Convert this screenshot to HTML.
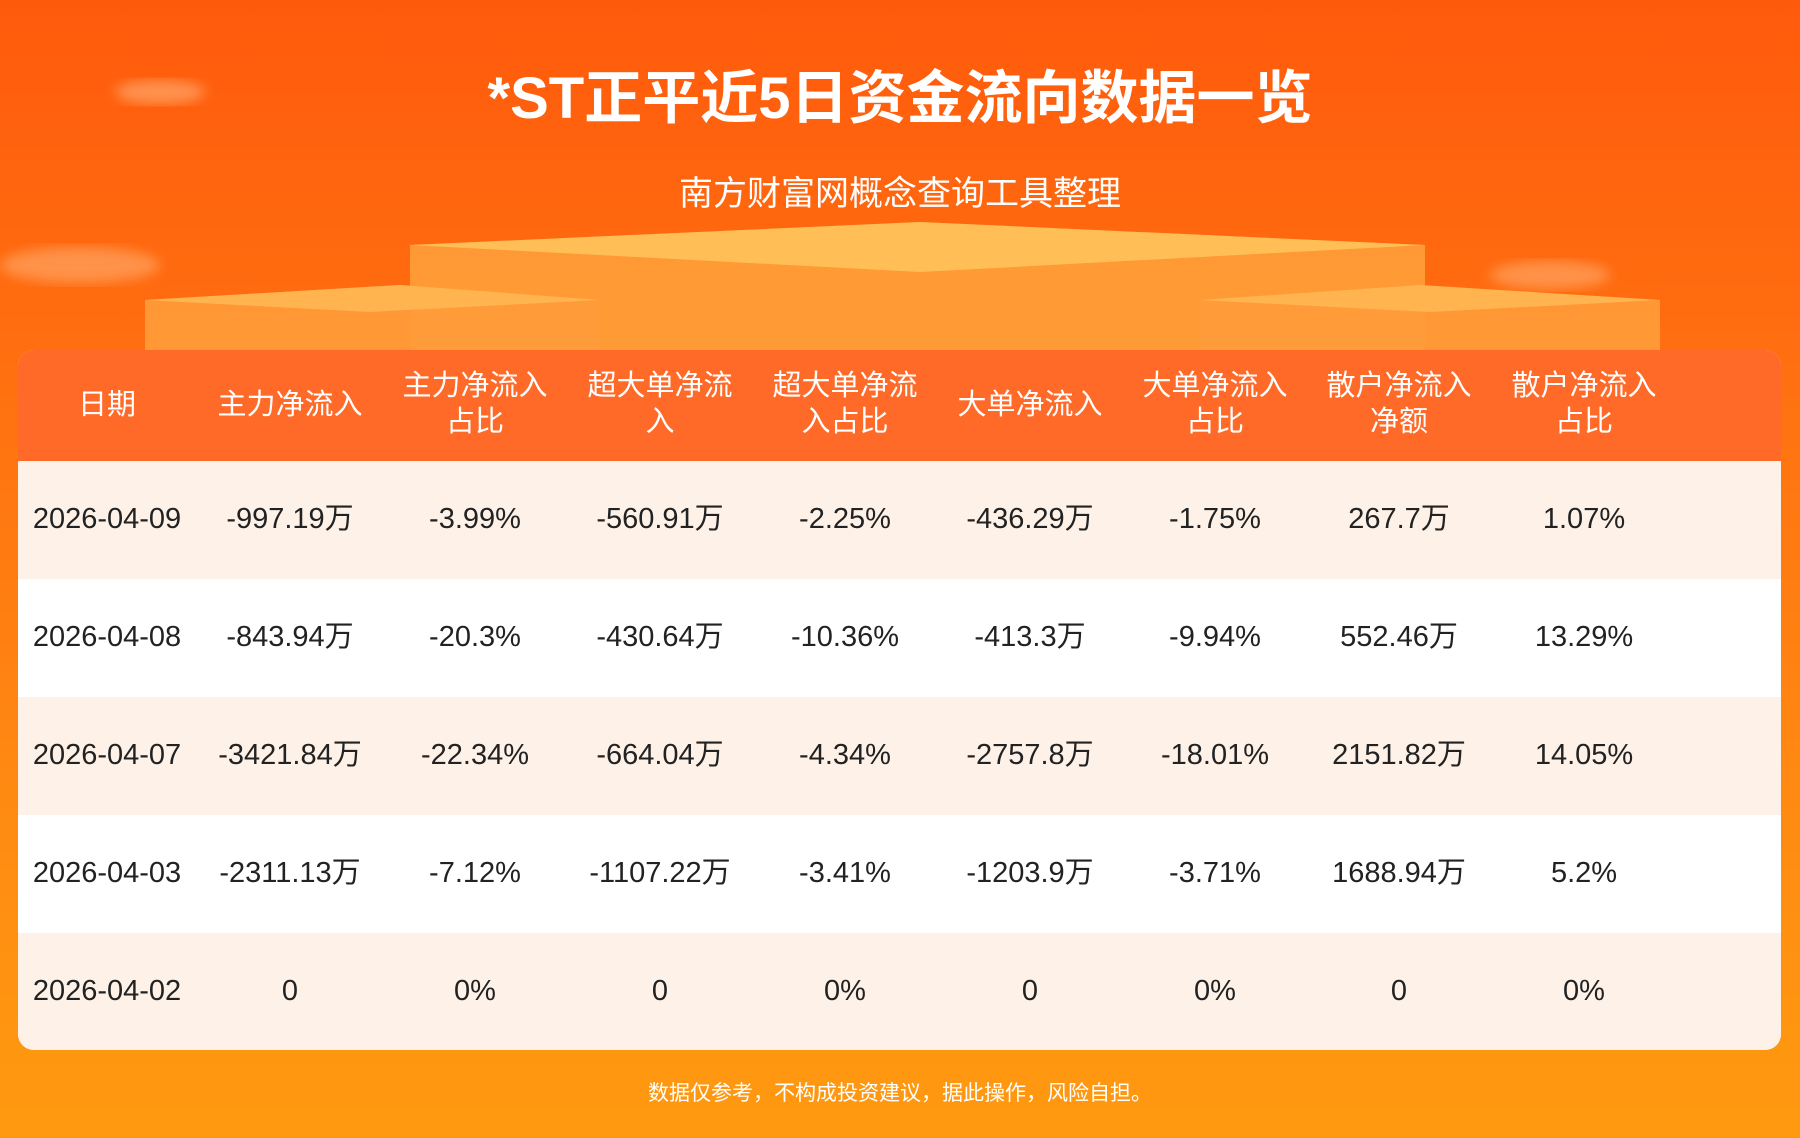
<!DOCTYPE html>
<html><head><meta charset="utf-8"><style>
html,body{margin:0;padding:0}
body{width:1800px;height:1138px;position:relative;overflow:hidden;font-family:"Liberation Sans","Noto Sans CJK SC",sans-serif;background:linear-gradient(180deg,#ff5a0c 0%,#ff6e10 30%,#ff8a12 70%,#ff9a10 100%)}
.title{position:absolute;top:51px;width:100%;text-align:center;color:#fff;font-size:58px;font-weight:bold}
.sub{position:absolute;top:166px;width:100%;text-align:center;color:#fff;font-size:34px}
.tbl{position:absolute;left:18px;top:350px;width:1763px;height:700px;border-radius:16px;overflow:hidden;background:#fff}
.row{position:absolute;left:0;width:100%;height:118px}
.hdr{top:0;height:111px;background:#ff6a28;color:#fff;font-size:29px}
.cell{position:absolute;width:200px;text-align:center;transform:translateX(-50%);line-height:36px}
.foot{position:absolute;top:1077px;width:100%;text-align:center;color:#fff;font-size:21px}
</style></head><body>
<svg width="1800" height="350" style="position:absolute;left:0;top:0">
<defs><filter id="b"><feGaussianBlur stdDeviation="6"/></filter></defs>
<polygon points="410,245 920,222 1425,245 1425,350 410,350" fill="#ffa23c" opacity="0.85"/>
<polygon points="410,245 920,222 1425,245 920,272" fill="#ffc25a" opacity="0.9"/>
<polygon points="145,300 400,285 600,300 600,350 145,350" fill="#ff9c3a" opacity="0.9"/>
<polygon points="145,300 400,285 600,300 370,312" fill="#ffb752" opacity="0.9"/>
<polygon points="1200,300 1420,285 1660,300 1660,350 1200,350" fill="#ff9c3a" opacity="0.9"/>
<polygon points="1200,300 1420,285 1660,300 1430,312" fill="#ffb752" opacity="0.9"/>
<ellipse cx="160" cy="92" rx="45" ry="12" fill="#ffd0a0" opacity="0.45" filter="url(#b)"/>
<ellipse cx="80" cy="265" rx="80" ry="18" fill="#ffd0a0" opacity="0.4" filter="url(#b)"/>
<ellipse cx="1550" cy="275" rx="60" ry="14" fill="#ffd0a0" opacity="0.4" filter="url(#b)"/>
</svg>
<div class="title">*ST正平近5日资金流向数据一览</div>
<div class="sub">南方财富网概念查询工具整理</div>
<div class="tbl">
<div class="row hdr">
<div class="cell" style="left:89px;top:37px">日期</div>
<div class="cell" style="left:272px;top:37px">主力净流入</div>
<div class="cell" style="left:457px;top:18px">主力净流入<br>占比</div>
<div class="cell" style="left:642px;top:18px">超大单净流<br>入</div>
<div class="cell" style="left:827px;top:18px">超大单净流<br>入占比</div>
<div class="cell" style="left:1012px;top:37px">大单净流入</div>
<div class="cell" style="left:1197px;top:18px">大单净流入<br>占比</div>
<div class="cell" style="left:1381px;top:18px">散户净流入<br>净额</div>
<div class="cell" style="left:1566px;top:18px">散户净流入<br>占比</div>
</div>
</div>
<script>
var d=[["2026-04-09","-997.19万","-3.99%","-560.91万","-2.25%","-436.29万","-1.75%","267.7万","1.07%"],
["2026-04-08","-843.94万","-20.3%","-430.64万","-10.36%","-413.3万","-9.94%","552.46万","13.29%"],
["2026-04-07","-3421.84万","-22.34%","-664.04万","-4.34%","-2757.8万","-18.01%","2151.82万","14.05%"],
["2026-04-03","-2311.13万","-7.12%","-1107.22万","-3.41%","-1203.9万","-3.71%","1688.94万","5.2%"],
["2026-04-02","0","0%","0","0%","0","0%","0","0%"]];
var xs=[89,272,457,642,827,1012,1197,1381,1566],t=document.querySelector('.tbl'),h='';
d.forEach(function(r,i){h+='<div class="row" style="top:'+(111+i*118)+'px;background:'+(i%2?'#fff':'#fdf1e8')+';font-size:29px;color:#222">';
r.forEach(function(c,j){h+='<div class="cell" style="left:'+xs[j]+'px;top:40px">'+c+'</div>'});h+='</div>'});
t.insertAdjacentHTML('beforeend',h);
</script>
<div class="foot">数据仅参考，不构成投资建议，据此操作，风险自担。</div>
</body></html>
